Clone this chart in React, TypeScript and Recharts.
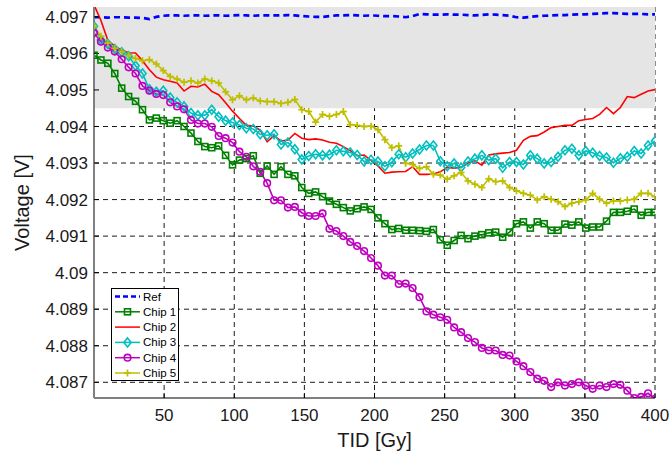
import React from 'react';
import { LineChart, Line, XAxis, YAxis, CartesianGrid, ReferenceArea, Legend, Label } from 'recharts';

const tid = [
  0, 4.94, 9.88, 14.81, 19.75, 24.69, 29.63, 34.57, 39.51, 44.44,
  49.38, 54.32, 59.26, 64.2, 69.14, 74.07, 79.01, 83.95, 88.89, 93.83,
  98.77, 103.7, 108.64, 113.58, 118.52, 123.46, 128.4, 133.33, 138.27, 143.21,
  148.15, 153.09, 158.02, 162.96, 167.9, 172.84, 177.78, 182.72, 187.65, 192.59,
  197.53, 202.47, 207.41, 212.35, 217.28, 222.22, 227.16, 232.1, 237.04, 241.98,
  246.91, 251.85, 256.79, 261.73, 266.67, 271.6, 276.54, 281.48, 286.42, 291.36,
  296.3, 301.23, 306.17, 311.11, 316.05, 320.99, 325.93, 330.86, 335.8, 340.74,
  345.68, 350.62, 355.56, 360.49, 365.43, 370.37, 375.31, 380.25, 385.19, 390.12,
  395.06, 400,
];

const refV = [
  4.09699, 4.09699, 4.09698, 4.09699, 4.09699, 4.09698, 4.09698, 4.09697, 4.09694, 4.097,
  4.09703, 4.09704, 4.09704, 4.09703, 4.09704, 4.09704, 4.09703, 4.09704, 4.09704, 4.09703,
  4.09704, 4.09705, 4.09704, 4.09703, 4.09704, 4.09704, 4.09704,
  4.09704, 4.09705, 4.09704, 4.09702, 4.09701, 4.097, 4.097, 4.09702, 4.09704, 4.09704,
  4.09705, 4.09704, 4.09703, 4.09704, 4.09703, 4.09702, 4.09702, 4.09701, 4.09699, 4.09702,
  4.09708, 4.09707, 4.09706, 4.09706, 4.09707, 4.09706, 4.09706, 4.09705, 4.09704, 4.09705,
  4.09707, 4.09706, 4.09705, 4.09703, 4.09699, 4.09698, 4.097, 4.09702, 4.09703, 4.09704,
  4.09705, 4.09705, 4.09706, 4.09707, 4.09707, 4.09708, 4.09709, 4.0971, 4.0971, 4.09709,
  4.09708, 4.09708, 4.09708, 4.09707, 4.09707,
];

const chip1 = [
  4.09595, 4.09582, 4.09573, 4.09545, 4.09505, 4.09482, 4.09469, 4.09446, 4.09418, 4.09423,
  4.09416, 4.09409, 4.09416, 4.094, 4.09382, 4.09359, 4.09345, 4.09342, 4.09347, 4.09321,
  4.09295, 4.09308, 4.09312, 4.0932, 4.09272, 4.09292, 4.09269, 4.0929, 4.09269, 4.09265,
  4.09233, 4.09217, 4.09221, 4.09208, 4.09196, 4.09187, 4.09178, 4.09169, 4.09175, 4.0918,
  4.09173, 4.0915, 4.09134, 4.09118, 4.09121, 4.09116, 4.09116, 4.09115, 4.09113, 4.09118,
  4.0909, 4.09075, 4.09088, 4.09102, 4.09093, 4.091, 4.09104, 4.09109, 4.09111, 4.09097,
  4.09111, 4.09134, 4.09139, 4.09122, 4.09139, 4.09134, 4.09116, 4.09116, 4.09133, 4.0913,
  4.09139, 4.09122, 4.09125, 4.09125, 4.09141, 4.09165, 4.09165, 4.09168, 4.09174, 4.09157,
  4.09165, 4.09165,
];

const chip2 = [
  4.09733, 4.0969, 4.09635, 4.0962, 4.09609, 4.09602, 4.09601, 4.0958, 4.09555, 4.09535,
  4.09528, 4.09524, 4.09519, 4.09497, 4.0951, 4.09508, 4.09516, 4.09496, 4.09487, 4.09465,
  4.09442, 4.09422, 4.09403, 4.09401, 4.0939, 4.09358, 4.09375, 4.0936, 4.09363, 4.09381,
  4.09368, 4.09364, 4.09366, 4.09363, 4.09357, 4.09354, 4.09345, 4.09334, 4.0932, 4.09322,
  4.09307, 4.09292, 4.09272, 4.09275, 4.09276, 4.09277, 4.0929, 4.09269, 4.09269, 4.0927,
  4.09276, 4.09288, 4.09286, 4.09288, 4.093, 4.09306, 4.09294, 4.09322, 4.09325, 4.09327,
  4.09329, 4.09335, 4.09362, 4.09373, 4.09375, 4.09385, 4.09397, 4.094, 4.09403, 4.09403,
  4.09416, 4.09419, 4.09422, 4.09433, 4.09452, 4.09435, 4.09452, 4.09482, 4.09479, 4.09488,
  4.09497, 4.09501,
];

const chip3 = [
  4.09674, 4.09637, 4.09626, 4.09612, 4.09603, 4.09592, 4.09566, 4.09545, 4.09502, 4.09495,
  4.09498, 4.09479, 4.09466, 4.09455, 4.09437, 4.09431, 4.09431, 4.09446, 4.09427, 4.09416,
  4.09411, 4.09404, 4.09395, 4.09393, 4.09379, 4.09376, 4.09379, 4.09351, 4.09356, 4.09338,
  4.0931, 4.09319, 4.09324, 4.09321, 4.09323, 4.09335, 4.09332, 4.09329, 4.09322, 4.09304,
  4.09309, 4.09304, 4.09291, 4.09302, 4.09324, 4.09316, 4.09326, 4.09337, 4.09348, 4.09348,
  4.09305, 4.09291, 4.09299, 4.09288, 4.09304, 4.09312, 4.09321, 4.09308, 4.09312, 4.09287,
  4.09303, 4.09303, 4.09296, 4.09321, 4.09312, 4.09299, 4.09303, 4.09317, 4.09335, 4.09339,
  4.09321, 4.09333, 4.09328, 4.09319, 4.09315, 4.09301, 4.09313, 4.09317, 4.09333, 4.09326,
  4.09348, 4.0936,
];

const chip4 = [
  4.09656, 4.09632, 4.09616, 4.09605, 4.09584, 4.09562, 4.09545, 4.09511, 4.09498, 4.09489,
  4.09486, 4.09466, 4.09455, 4.09447, 4.09418, 4.09408, 4.09408, 4.09399, 4.09374, 4.09368,
  4.09356, 4.09331, 4.09317, 4.09291, 4.09276, 4.09245, 4.09198, 4.09198, 4.09178, 4.0918,
  4.09164, 4.09155, 4.09155, 4.09162, 4.0912, 4.09114, 4.091, 4.09084, 4.09073, 4.09059,
  4.0904, 4.09019, 4.08992, 4.08992, 4.08969, 4.0897, 4.08958, 4.08933, 4.08894, 4.08885,
  4.08878, 4.08871, 4.0885, 4.08837, 4.08821, 4.0881, 4.08794, 4.08787, 4.08787, 4.08775,
  4.08773, 4.08757, 4.08744, 4.08728, 4.0871, 4.08704, 4.08687, 4.087, 4.08691, 4.08695,
  4.087, 4.08691, 4.08682, 4.08691, 4.08687, 4.08695, 4.08693, 4.08677, 4.08657, 4.0866,
  4.0867, 4.08655,
];

const chip5 = [
  4.09674, 4.09647, 4.09628, 4.09614, 4.09605, 4.09594, 4.09586, 4.0958, 4.09583, 4.09571,
  4.09553, 4.09537, 4.0953, 4.09521, 4.09525, 4.09519, 4.0953, 4.09525, 4.09519, 4.09495,
  4.09473, 4.09484, 4.09473, 4.09478, 4.0947, 4.09468, 4.09468, 4.09463, 4.09466, 4.09474,
  4.09446, 4.09441, 4.09412, 4.09433, 4.09428, 4.09433, 4.09441, 4.09405, 4.09403, 4.094,
  4.09401, 4.09391, 4.09364, 4.09342, 4.09347, 4.09299, 4.09296, 4.09285, 4.0929, 4.09269,
  4.09267, 4.09256, 4.09265, 4.09274, 4.09251, 4.09242, 4.09233, 4.09257, 4.09249, 4.09251,
  4.09233, 4.09224, 4.09217, 4.09212, 4.09199, 4.09208, 4.09201, 4.09194, 4.09181, 4.0919,
  4.09194, 4.09199, 4.09217, 4.09201, 4.0919, 4.09196, 4.09196, 4.09199, 4.09201, 4.09217,
  4.09217, 4.09208,
];

const xTicks = [50, 100, 150, 200, 250, 300, 350, 400];
const yTicks = [4.087, 4.088, 4.089, 4.09, 4.091, 4.092, 4.093, 4.094, 4.095, 4.096, 4.097];
const xDomain = [0, 400];
const yDomain = [4.08657, 4.09727];
const bandLow = 4.0945;

const seriesNames = ['Ref', 'Chip 1', 'Chip 2', 'Chip 3', 'Chip 4', 'Chip 5'];
const seriesKeys = ['ref', 'chip1', 'chip2', 'chip3', 'chip4', 'chip5'];
const seriesValues = [refV, chip1, chip2, chip3, chip4, chip5];
const seriesColors = ['#0000ff', '#008000', '#ff0000', '#00bfbf', '#bf00bf', '#bfbf00'];
const seriesMarkers = ['none', 'square', 'none', 'diamond', 'circle', 'plus'];

const FONT = '"Liberation Sans", Arial, Helvetica, sans-serif';

const data = tid.map((t, i) => {
  const row: any = { tid: t };
  seriesKeys.forEach((k, s) => { row[k] = seriesValues[s][i]; });
  return row;
});

function MarkerShape({ type, cx, cy, color }: { type: string; cx: number; cy: number; color: string }) {
  if (cx == null || cy == null || isNaN(cx) || isNaN(cy)) return null;
  if (type === 'square') {
    return <rect x={cx - 3} y={cy - 3} width={6} height={6} fill="none" stroke={color} strokeWidth={1.6} />;
  }
  if (type === 'diamond') {
    return (
      <polygon
        points={`${cx},${cy - 4.5} ${cx + 3.6},${cy} ${cx},${cy + 4.5} ${cx - 3.6},${cy}`}
        fill="none"
        stroke={color}
        strokeWidth={1.6}
      />
    );
  }
  if (type === 'circle') {
    return <circle cx={cx} cy={cy} r={3.3} fill="none" stroke={color} strokeWidth={1.6} />;
  }
  if (type === 'plus') {
    return (
      <g stroke={color} strokeWidth={1.7}>
        <line x1={cx - 3.5} x2={cx + 3.5} y1={cy} y2={cy} />
        <line x1={cx} x2={cx} y1={cy - 3.5} y2={cy + 3.5} />
      </g>
    );
  }
  return null;
}

const LegendBox = () => (
  <div
    style={{
      width: 68,
      height: 93,
      border: '1px solid #000',
      background: '#fff',
      boxSizing: 'border-box',
    }}
  >
    <svg width={66} height={91} style={{ display: 'block' }}>
      {seriesNames.map((name, i) => {
        const y = 7.5 + i * 15.3;
        return (
          <g key={name}>
            <line
              x1={3}
              x2={28}
              y1={y}
              y2={y}
              stroke={seriesColors[i]}
              strokeWidth={i === 0 ? 2.5 : 1.5}
              strokeDasharray={i === 0 ? '5 3' : undefined}
            />
            <MarkerShape type={seriesMarkers[i]} cx={15.5} cy={y} color={seriesColors[i]} />
            <text x={31} y={y + 4} fontFamily={FONT} fontSize={11.5} fill="#000">
              {name}
            </text>
          </g>
        );
      })}
    </svg>
  </div>
);

export default function App() {
  return (
    <div style={{ position: 'absolute', left: 0, top: 0, width: 670, height: 458, background: '#fff' }}>
      <LineChart
        width={670}
        height={458}
        data={data}
        margin={{ top: 7, right: 15, left: 0, bottom: 0 }}
      >
        <CartesianGrid
          stroke="#1a1a1a"
          strokeDasharray="5 4"
          strokeWidth={1}
          horizontalValues={yTicks}
          verticalValues={xTicks}
        />
        <ReferenceArea y1={bandLow} y2={yDomain[1]} fill="#e5e5e5" fillOpacity={1} stroke="none" ifOverflow="hidden" />
        <XAxis
          dataKey="tid"
          type="number"
          domain={xDomain}
          ticks={xTicks}
          allowDataOverflow
          height={60}
          tickSize={-5}
          tickMargin={16}
          axisLine={{ stroke: '#000', strokeWidth: 1 }}
          tickLine={{ stroke: '#000' }}
          tick={{ fontSize: 17, fill: '#1a1a1a', fontFamily: FONT }}
        >
          <Label
            content={({ viewBox }: any) => (
              <text
                x={viewBox.x + viewBox.width / 2}
                y={viewBox.y + 49}
                textAnchor="middle"
                fontSize={20}
                fontFamily={FONT}
                fill="#1a1a1a"
              >
                TID [Gy]
              </text>
            )}
          />
        </XAxis>
        <XAxis
          xAxisId="top"
          orientation="top"
          dataKey="tid"
          type="number"
          domain={xDomain}
          ticks={xTicks}
          allowDataOverflow
          height={0}
          tickSize={-5}
          tick={false}
          axisLine={false}
          tickLine={{ stroke: '#000' }}
        />
        <YAxis
          type="number"
          domain={yDomain}
          ticks={yTicks}
          allowDataOverflow
          width={94}
          tickSize={-5}
          tickMargin={11}
          interval={0}
          axisLine={{ stroke: '#808080', strokeWidth: 2 }}
          tickLine={{ stroke: '#000' }}
          tick={{ fontSize: 17, fill: '#1a1a1a', fontFamily: FONT }}
          tickFormatter={(v: number) => String(v)}
        >
          <Label
            content={({ viewBox }: any) => {
              const cx = 22;
              const cy = viewBox.y + viewBox.height / 2;
              return (
                <text
                  x={cx}
                  y={cy}
                  textAnchor="middle"
                  dominantBaseline="central"
                  transform={`rotate(-90 ${cx} ${cy})`}
                  fontSize={20}
                  fontFamily={FONT}
                  fill="#1a1a1a"
                >
                  Voltage [V]
                </text>
              );
            }}
          />
        </YAxis>
        <YAxis
          yAxisId="right"
          orientation="right"
          type="number"
          domain={yDomain}
          ticks={yTicks}
          allowDataOverflow
          width={0}
          tickSize={-5}
          tick={false}
          axisLine={false}
          tickLine={{ stroke: '#000' }}
        />
        {seriesKeys.map((k, i) => (
          <Line
            key={k}
            dataKey={k}
            name={seriesNames[i]}
            type="linear"
            stroke={seriesColors[i]}
            strokeWidth={i === 0 ? 2.7 : 1.6}
            strokeDasharray={i === 0 ? '6 4' : undefined}
            isAnimationActive={false}
            dot={
              seriesMarkers[i] === 'none'
                ? false
                : (p: any) => (
                    <MarkerShape key={`${k}-${p.index}`} type={seriesMarkers[i]} cx={p.cx} cy={p.cy} color={seriesColors[i]} />
                  )
            }
            activeDot={false}
          />
        ))}
        <Legend
          layout="vertical"
          align="center"
          verticalAlign="middle"
          content={() => <LegendBox />}
          wrapperStyle={{ position: 'absolute', left: 111, top: 288, width: 68, height: 93 }}
        />
      </LineChart>
    </div>
  );
}
